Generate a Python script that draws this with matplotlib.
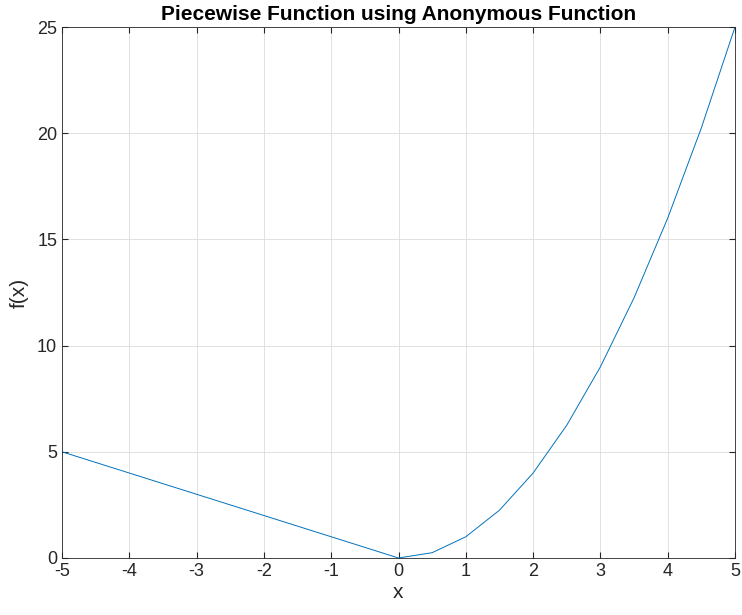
import matplotlib
matplotlib.use("Agg")
import matplotlib.pyplot as plt

x_vals = [-5, -4.5, -4, -3.5, -3, -2.5, -2, -1.5, -1, -0.5, 0, 0.5, 1, 1.5, 2, 2.5, 3, 3.5, 4, 4.5, 5]
y_vals = [5, 4.5, 4, 3.5, 3, 2.5, 2, 1.5, 1, 0.5, 0, 0.25, 1, 2.25, 4, 6.25, 9, 12.25, 16, 20.25, 25]
xticks = [-5, -4, -3, -2, -1, 0, 1, 2, 3, 4, 5]
yticks = [0, 5, 10, 15, 20, 25]

plt.rcParams['font.family'] = ['Liberation Sans', 'DejaVu Sans']
fig = plt.figure(figsize=(7.42, 6.15), dpi=100)
ax = fig.add_axes([62/742, 1-558/615, (735-62)/742, (558-27)/615])
ax.plot(x_vals, y_vals, color='#0072BD', linewidth=0.7)
ax.set_xlim(-5, 5)
ax.set_ylim(0, 25)
ax.set_xticks(xticks)
ax.set_xticklabels([str(t) for t in xticks])
ax.set_yticks(yticks)
ax.grid(True, color='#dcdcdc', linewidth=0.6)
ax.set_axisbelow(True)
for s in ax.spines.values():
    s.set_color('#262626')
    s.set_linewidth(0.6)
ax.tick_params(direction='in', labelsize=13, colors='#262626', length=4, top=True, right=True, labeltop=False, labelright=False)
ax.set_xlabel('x', fontsize=15, color='#262626', labelpad=2)
ax.set_ylabel('f(x)', fontsize=15, color='#262626', labelpad=6)
ax.set_title('Piecewise Function using Anonymous Function', fontsize=15, fontweight='bold', pad=5)
fig.savefig('out.png', dpi=100)
